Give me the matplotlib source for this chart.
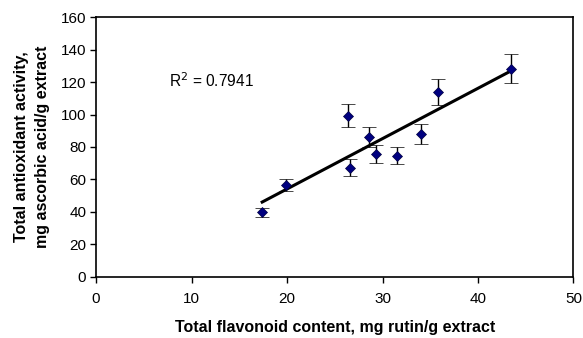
import numpy as np
import matplotlib
matplotlib.use("Agg")
import matplotlib.pyplot as plt

plt.rcParams['font.family'] = ['Liberation Sans', 'DejaVu Sans']

# flavonoid content vs antioxidant activity
flavonoid = [17.4, 19.9, 26.4, 26.6, 28.6, 29.3, 31.5, 34.0, 35.8, 43.5]
activity  = [39.7, 56.6, 99.4, 67.3, 86.2, 75.7, 74.7, 87.9, 114.2, 128.2]
act_err   = [2.6, 3.8, 7.0, 5.1, 6.3, 5.4, 5.0, 6.2, 8.0, 9.0]
r2_text   = "R$^2$ = 0.7941"

xticks = [0, 10, 20, 30, 40, 50]
yticks = [0, 20, 40, 60, 80, 100, 120, 140, 160]

fig = plt.figure(figsize=(5.83, 3.38), dpi=100)
ax = fig.add_axes([0.1647, 0.1814, 0.8190, 0.7674])

# linear trendline
k, b = np.polyfit(flavonoid, activity, 1)
xl = np.array([min(flavonoid), max(flavonoid)])
ax.plot(xl, k * xl + b, color='black', lw=2.2, zorder=2)

ax.errorbar(flavonoid, activity, yerr=act_err, fmt='D', color='#000080',
            markersize=5.5, markeredgecolor='#000040', markeredgewidth=0.5,
            ecolor='black', elinewidth=1.0, capsize=5, capthick=1.0, zorder=3)

ax.text(7.6, 121, r2_text, fontsize=11.2, va='center', ha='left')

ax.set_xlim(0, 50)
ax.set_ylim(0, 160)
ax.set_xticks(xticks)
ax.set_yticks(yticks)
ax.tick_params(labelsize=11, direction='out', length=4, width=1)
ax.tick_params(axis='x', pad=7)
ax.tick_params(axis='y', pad=3)
for s in ax.spines.values():
    s.set_linewidth(1.2)

ax.set_xlabel("Total flavonoid content, mg rutin/g extract",
              fontsize=11.5, fontweight='bold', labelpad=10)
ax.set_ylabel("Total antioxidant activity,\nmg ascorbic acid/g extract",
              fontsize=11.5, fontweight='bold', labelpad=8, linespacing=1.45)

fig.savefig("out.png", dpi=100)
